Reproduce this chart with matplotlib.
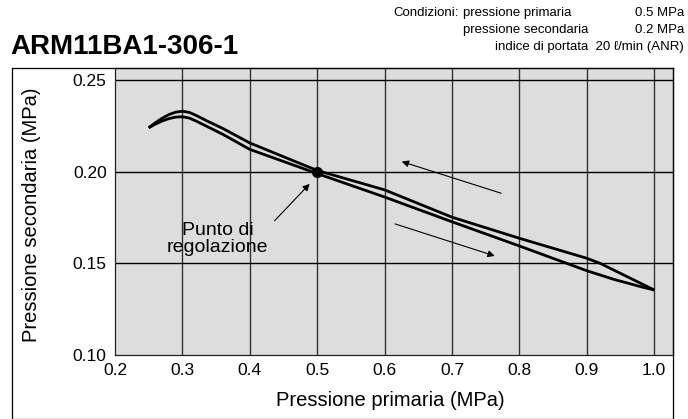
import matplotlib
matplotlib.use('Agg')
import matplotlib.pyplot as plt
from matplotlib.lines import Line2D

plt.rcParams['font.family'] = ['Liberation Sans', 'DejaVu Sans']

# curva superiore (pressione in discesa)
x_sup = [0.25, 0.26, 0.27, 0.28, 0.29, 0.30, 0.31, 0.32, 0.336, 0.36, 0.40, 0.50, 0.60, 0.70, 0.80, 0.90, 0.92, 1.0]
y_sup = [0.224, 0.2268, 0.2292, 0.2312, 0.2325, 0.2330, 0.2324, 0.2308, 0.2278, 0.2236, 0.2157, 0.2007, 0.1901, 0.1752, 0.1637, 0.1528, 0.1500, 0.1355]

# curva inferiore (pressione in salita)
x_inf = [0.25, 0.26, 0.27, 0.28, 0.29, 0.30, 0.31, 0.32, 0.336, 0.36, 0.40, 0.50, 0.60, 0.70, 0.80, 0.90, 0.94, 0.98, 1.0]
y_inf = [0.224, 0.2260, 0.2277, 0.2290, 0.2298, 0.2300, 0.2293, 0.2277, 0.2248, 0.2204, 0.2122, 0.1990, 0.1862, 0.1727, 0.1595, 0.1460, 0.1413, 0.1373, 0.1355]

punto_x = 0.5
punto_y = 0.2

xticks = [0.2, 0.3, 0.4, 0.5, 0.6, 0.7, 0.8, 0.9, 1.0]
yticks = [0.10, 0.15, 0.20, 0.25]

fig = plt.figure(figsize=(6.88, 4.19), dpi=100)
ax = fig.add_axes([0.1672, 0.1527, 0.8110, 0.6850])
ax.set_facecolor('#dddddd')

ax.plot(x_sup, y_sup, color='black', lw=2.0, solid_capstyle='butt', solid_joinstyle='round', zorder=3)
ax.plot(x_inf, y_inf, color='black', lw=2.0, solid_capstyle='butt', solid_joinstyle='round', zorder=3)
ax.plot([punto_x], [punto_y], 'o', color='black', ms=7, zorder=4)

ax.set_xlim(0.2, 1.028)
ax.set_ylim(0.10, 0.2566)
ax.set_xticks(xticks)
ax.set_xticklabels(['%.1f' % v for v in xticks])
ax.set_yticks(yticks)
ax.set_yticklabels(['%.2f' % v for v in yticks])
ax.tick_params(length=0, labelsize=12.5)
ax.tick_params(axis='x', pad=6)
ax.tick_params(axis='y', pad=6)

for v in xticks[1:]:
    ax.axvline(v, color='#333333', lw=1.0, zorder=1)
for v in yticks[1:]:
    ax.axhline(v, color='black', lw=1.0, zorder=1)
for s in ax.spines.values():
    s.set_color('#222222')
    s.set_linewidth(0.9)

ax.set_xlabel('Pressione primaria (MPa)', fontsize=14.5, va='center')
ax.xaxis.set_label_coords(0.493, -0.157)
ax.set_ylabel('Pressione secondaria (MPa)', fontsize=14.5, va='center')
ax.yaxis.set_label_coords(-0.15, 0.488)

# punto di regolazione
ax.annotate('', xy=(0.4917, 0.1945), xytext=(0.434, 0.1722),
            arrowprops=dict(arrowstyle='-|>', color='black', lw=0.8, mutation_scale=10))
ax.text(0.352, 0.1633, 'Punto di\nregolazione', fontsize=14, ha='center', va='center',
        linespacing=0.95)

# frecce di direzione
ax.annotate('', xy=(0.6215, 0.2060), xytext=(0.777, 0.1878),
            arrowprops=dict(arrowstyle='-|>', color='black', lw=0.8, mutation_scale=10))
ax.annotate('', xy=(0.7674, 0.1536), xytext=(0.6116, 0.1720),
            arrowprops=dict(arrowstyle='-|>', color='black', lw=0.8, mutation_scale=10))

# cornice esterna
W, H = 688.0, 419.0
def fx(p):
    return p / W
def fy(p):
    return 1 - p / H
fig.add_artist(Line2D([fx(12), fx(12)], [fy(68), fy(418.5)], color='black', lw=0.9))
fig.add_artist(Line2D([fx(12), fx(673)], [fy(68), fy(68)], color='black', lw=0.9))
fig.add_artist(Line2D([fx(673), fx(673)], [fy(68), fy(418.5)], color='black', lw=0.9))
fig.add_artist(Line2D([fx(12), fx(673)], [fy(418.5), fy(418.5)], color='black', lw=0.9))

fig.text(fx(10), fy(47), 'ARM11BA1-306-1', fontsize=20, fontweight='bold', ha='left', va='center')

fs = 9.5
fig.text(fx(459), fy(13), 'Condizioni:', fontsize=fs, ha='right', va='center')
fig.text(fx(463), fy(13), 'pressione primaria', fontsize=fs, ha='left', va='center')
fig.text(fx(684), fy(13), '0.5 MPa', fontsize=fs, ha='right', va='center')
fig.text(fx(463), fy(30), 'pressione secondaria', fontsize=fs, ha='left', va='center')
fig.text(fx(684), fy(30), '0.2 MPa', fontsize=fs, ha='right', va='center')
fig.text(fx(684), fy(47), 'indice di portata  20 \u2113/min (ANR)', fontsize=fs, ha='right', va='center')

fig.savefig('out.png', dpi=100)
